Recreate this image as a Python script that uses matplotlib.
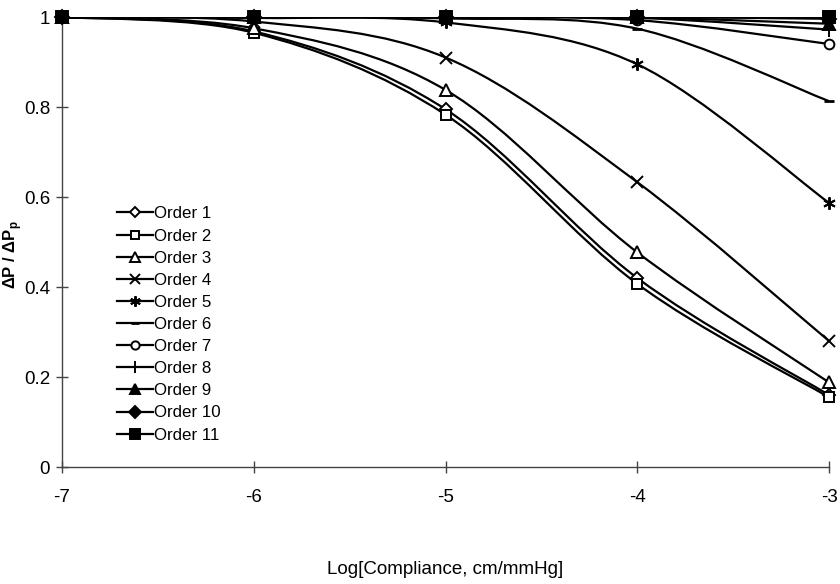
import matplotlib
matplotlib.use("Agg")
import matplotlib.pyplot as plt
from matplotlib.path import Path
from matplotlib.patches import PathPatch
from matplotlib.lines import Line2D
import numpy as np

plt.rcParams['font.family'] = ['Liberation Sans', 'DejaVu Sans']
plt.rcParams['axes.unicode_minus'] = False

# ---- data ----
log_compliance = [-7, -6, -5, -4, -3]
order_labels = ["Order 1", "Order 2", "Order 3", "Order 4", "Order 5", "Order 6",
                "Order 7", "Order 8", "Order 9", "Order 10", "Order 11"]
order1 = [1.000, 0.968, 0.795, 0.420, 0.160]
order2 = [1.000, 0.965, 0.783, 0.407, 0.155]
order3 = [1.000, 0.975, 0.838, 0.477, 0.188]
order4 = [1.000, 0.990, 0.910, 0.633, 0.280]
order5 = [1.000, 0.998, 0.988, 0.895, 0.587]
order6 = [1.000, 1.000, 0.997, 0.974, 0.813]
order7 = [1.000, 1.000, 0.999, 0.993, 0.940]
order8 = [1.000, 1.000, 1.000, 0.998, 0.972]
order9 = [1.000, 1.000, 1.000, 0.999, 0.985]
order10 = [1.000, 1.000, 1.000, 1.000, 0.996]
order11 = [1.000, 1.000, 1.000, 1.000, 1.000]
series = [order1, order2, order3, order4, order5, order6,
          order7, order8, order9, order10, order11]
x_ticks = [-7, -6, -5, -4, -3]
y_ticks = [0, 0.2, 0.4, 0.6, 0.8, 1.0]
y_ticklabels = ["0", "0.2", "0.4", "0.6", "0.8", "1"]

# ---- styles ----
asterisk = (6, 2, 0)
styles = [
    dict(marker='D', ms=6, mfc='white'),
    dict(marker='s', ms=7.5, mfc='white'),
    dict(marker='^', ms=8, mfc='white'),
    dict(marker='x', ms=8, mfc='black'),
    dict(marker=asterisk, ms=9, mfc='black'),
    dict(marker='_', ms=7, mfc='black'),
    dict(marker='o', ms=7, mfc='white'),
    dict(marker='+', ms=10, mfc='black'),
    dict(marker='^', ms=8, mfc='black'),
    dict(marker='D', ms=7, mfc='black'),
    dict(marker='s', ms=8, mfc='black'),
]

fig = plt.figure(figsize=(8.4, 5.84), dpi=100)
ax = fig.add_axes([62/840, 1-467/584, (829-62)/840, (467-17)/584])


def smooth_path(xs, ys):
    """Excel-style smoothed line as cubic Bezier path."""
    pts = np.column_stack([xs, ys]).astype(float)
    n = len(pts)
    verts = [pts[0]]
    codes = [Path.MOVETO]
    for i in range(n - 1):
        p0 = pts[i - 1] if i > 0 else pts[i]
        p1 = pts[i]
        p2 = pts[i + 1]
        p3 = pts[i + 2] if i + 2 < n else pts[i + 1]
        c1 = p1 + (p2 - p0) / 6.0
        c2 = p2 - (p3 - p1) / 6.0
        verts += [c1, c2, p2]
        codes += [Path.CURVE4] * 3
    return Path(verts, codes)


lw = 1.6
handles = []
for ys, st, lab in zip(series, styles, order_labels):
    patch = PathPatch(smooth_path(log_compliance, ys), fill=False,
                      edgecolor='black', lw=lw, zorder=2)
    ax.add_patch(patch)
    mew = 2.0 if st['marker'] == '_' else 1.4
    ax.plot(log_compliance, ys, linestyle='none', marker=st['marker'],
            ms=st['ms'], mfc=st['mfc'], mec='black', mew=mew,
            clip_on=False, zorder=3)
    handles.append(Line2D([], [], color='black', lw=lw, marker=st['marker'],
                          ms=st['ms'] * 0.85, mfc=st['mfc'], mec='black',
                          mew=mew, label=lab))

ax.set_xlim(-7, -3)
ax.set_ylim(0, 1)
ax.set_xticks(x_ticks)
ax.set_xticklabels([str(v) for v in x_ticks])
ax.set_yticks(y_ticks)
ax.set_yticklabels(y_ticklabels)

for s in ['top', 'right']:
    ax.spines[s].set_visible(False)
for s in ['left', 'bottom']:
    ax.spines[s].set_color('#444444')
    ax.spines[s].set_linewidth(1.0)

ax.tick_params(axis='both', direction='inout', length=9, width=1.0,
               color='#444444', labelsize=13.5)
ax.tick_params(axis='x', pad=11)
ax.tick_params(axis='y', pad=4)

ax.set_xlabel('Log[Compliance, cm/mmHg]', fontsize=13.5, labelpad=40)
ax.set_ylabel('ΔP / ΔP$_\\mathregular{p}$', fontsize=12, fontweight='bold',
              va='center')
ax.yaxis.set_label_coords((13 - 62) / 767, (467 - 255) / 450)

leg = fig.legend(handles=handles, loc='center left',
                 bbox_to_anchor=(117/840, 1 - 324.5/584),
                 bbox_transform=fig.transFigure, frameon=False,
                 fontsize=12.2, handlelength=2.1, handletextpad=0.1,
                 labelspacing=0.42, borderpad=0, borderaxespad=0)

fig.savefig('out.png', dpi=100)
